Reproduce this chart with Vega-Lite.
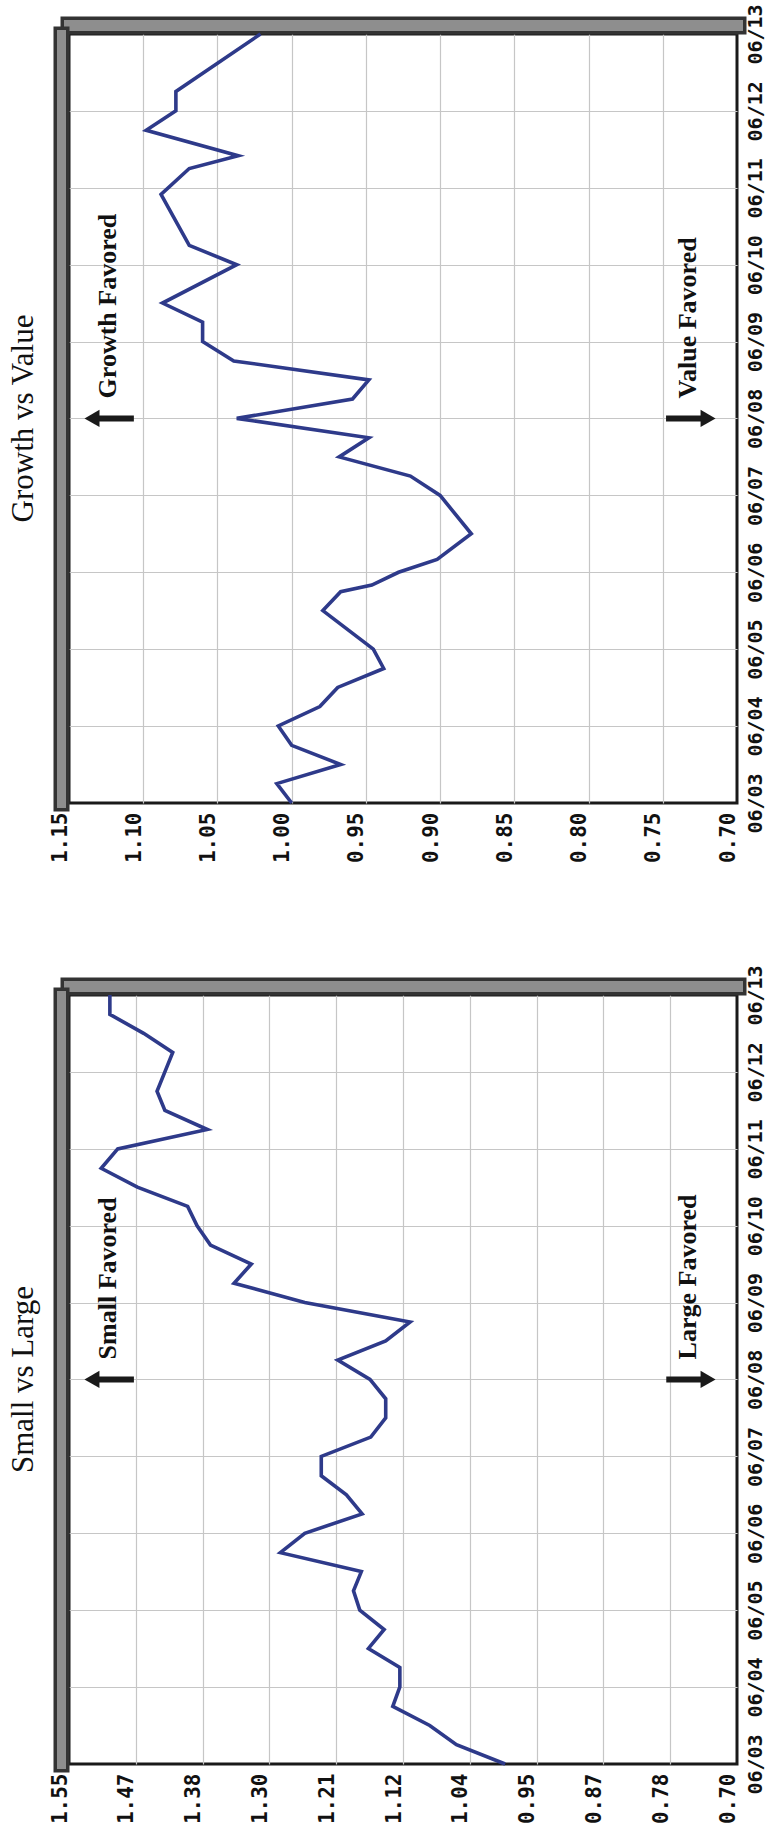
{
  "$schema": "https://vega.github.io/schema/vega-lite/v6.json",
  "background": "white",
  "padding": {"left": 6, "top": 2, "right": 0, "bottom": 4},
  "spacing": 192,
  "bounds": "flush",
  "datasets": {
    "gv": [
      {"date": "2003-06-01", "ratio": 1.000},
      {"date": "2003-09-01", "ratio": 1.010},
      {"date": "2003-12-01", "ratio": 0.967},
      {"date": "2004-03-01", "ratio": 1.000},
      {"date": "2004-06-01", "ratio": 1.009},
      {"date": "2004-09-01", "ratio": 0.981},
      {"date": "2004-12-01", "ratio": 0.969},
      {"date": "2005-03-01", "ratio": 0.938},
      {"date": "2005-06-01", "ratio": 0.945},
      {"date": "2005-12-01", "ratio": 0.979},
      {"date": "2006-03-01", "ratio": 0.967},
      {"date": "2006-04-01", "ratio": 0.946},
      {"date": "2006-06-01", "ratio": 0.928},
      {"date": "2006-08-01", "ratio": 0.902},
      {"date": "2006-12-01", "ratio": 0.879},
      {"date": "2007-06-01", "ratio": 0.900},
      {"date": "2007-09-01", "ratio": 0.920},
      {"date": "2007-12-01", "ratio": 0.968},
      {"date": "2008-03-01", "ratio": 0.948},
      {"date": "2008-06-01", "ratio": 1.037},
      {"date": "2008-09-01", "ratio": 0.959},
      {"date": "2008-12-01", "ratio": 0.948},
      {"date": "2009-03-01", "ratio": 1.039},
      {"date": "2009-06-01", "ratio": 1.060},
      {"date": "2009-09-01", "ratio": 1.060},
      {"date": "2009-12-01", "ratio": 1.087},
      {"date": "2010-06-01", "ratio": 1.037},
      {"date": "2010-09-01", "ratio": 1.069},
      {"date": "2011-05-01", "ratio": 1.088},
      {"date": "2011-09-01", "ratio": 1.069},
      {"date": "2011-11-01", "ratio": 1.036},
      {"date": "2012-03-01", "ratio": 1.098},
      {"date": "2012-06-01", "ratio": 1.078},
      {"date": "2012-09-01", "ratio": 1.078},
      {"date": "2013-06-01", "ratio": 1.021}
    ],
    "sl": [
      {"date": "2003-06-01", "ratio": 0.995},
      {"date": "2003-09-01", "ratio": 1.057},
      {"date": "2003-12-01", "ratio": 1.091},
      {"date": "2004-03-01", "ratio": 1.138},
      {"date": "2004-06-01", "ratio": 1.129},
      {"date": "2004-09-01", "ratio": 1.129},
      {"date": "2004-12-01", "ratio": 1.169},
      {"date": "2005-03-01", "ratio": 1.149},
      {"date": "2005-06-01", "ratio": 1.180},
      {"date": "2005-09-01", "ratio": 1.188},
      {"date": "2005-12-01", "ratio": 1.178},
      {"date": "2006-03-01", "ratio": 1.281},
      {"date": "2006-06-01", "ratio": 1.250},
      {"date": "2006-09-01", "ratio": 1.177},
      {"date": "2006-12-01", "ratio": 1.197},
      {"date": "2007-03-01", "ratio": 1.229},
      {"date": "2007-06-01", "ratio": 1.229},
      {"date": "2007-09-01", "ratio": 1.166},
      {"date": "2007-12-01", "ratio": 1.147},
      {"date": "2008-03-01", "ratio": 1.147},
      {"date": "2008-06-01", "ratio": 1.167},
      {"date": "2008-09-01", "ratio": 1.208},
      {"date": "2008-12-01", "ratio": 1.147},
      {"date": "2009-03-01", "ratio": 1.116},
      {"date": "2009-06-01", "ratio": 1.250},
      {"date": "2009-09-01", "ratio": 1.340},
      {"date": "2009-12-01", "ratio": 1.318},
      {"date": "2010-03-01", "ratio": 1.370},
      {"date": "2010-06-01", "ratio": 1.387},
      {"date": "2010-09-01", "ratio": 1.399},
      {"date": "2010-12-01", "ratio": 1.463},
      {"date": "2011-03-01", "ratio": 1.509},
      {"date": "2011-06-01", "ratio": 1.488},
      {"date": "2011-09-01", "ratio": 1.374},
      {"date": "2011-12-01", "ratio": 1.428},
      {"date": "2012-03-01", "ratio": 1.438},
      {"date": "2012-06-01", "ratio": 1.428},
      {"date": "2012-09-01", "ratio": 1.418},
      {"date": "2012-12-01", "ratio": 1.455},
      {"date": "2013-03-01", "ratio": 1.498},
      {"date": "2013-06-01", "ratio": 1.498}
    ],
    "ann_gv": [
      {"label": "Growth Favored", "side": "left", "date": "2008-06-01", "label_at": 1.1238, "shaft_from": 1.1305, "shaft_to": 1.1063, "head": 1.1345},
      {"label": "Value Favored", "side": "right", "date": "2008-06-01", "label_at": 0.733, "shaft_from": 0.7478, "shaft_to": 0.7236, "head": 0.7195}
    ],
    "ann_sl": [
      {"label": "Small Favored", "side": "left", "date": "2008-06-01", "label_at": 1.500, "shaft_from": 1.5132, "shaft_to": 1.4674, "head": 1.5208},
      {"label": "Large Favored", "side": "right", "date": "2008-06-01", "label_at": 0.762, "shaft_from": 0.790, "shaft_to": 0.7445, "head": 0.7368}
    ]
  },
  "vconcat": [
    {
      "width": 668,
      "height": 769,
      "title": {"text": "Growth vs Value", "orient": "left", "anchor": "middle", "font": "Liberation Serif", "fontSize": 31, "fontWeight": "normal", "color": "#111111", "offset": 9},
      "resolve": {"axis": {"x": "independent", "y": "independent"}},
      "layer": [
        {
          "data": {"name": "ann_gv"},
          "mark": {"type": "rule", "color": "#1a1a1a", "strokeWidth": 6},
          "encoding": {
            "x": {"field": "shaft_from", "type": "quantitative", "scale": {"domain": [0.7, 1.15], "reverse": true, "zero": false, "nice": false},
                  "axis": {"orient": "top", "domain": true, "domainColor": "#333333", "domainWidth": 18, "domainCap": "square", "offset": 9, "labels": false, "ticks": false, "grid": false, "title": null}},
            "x2": {"field": "shaft_to"},
            "y": {"field": "date", "type": "temporal", "scale": {"type": "utc", "domain": [{"year": 2003, "month": 6, "date": 1, "utc": true}, {"year": 2013, "month": 6, "date": 1, "utc": true}], "nice": false},
                  "axis": {"orient": "left", "domain": true, "domainColor": "#333333", "domainWidth": 16, "domainCap": "square", "offset": 8, "labels": false, "ticks": false, "grid": false, "title": null}}
          }
        },
        {
          "data": {"name": "ann_gv"},
          "mark": {"type": "point", "filled": true, "size": 300, "color": "#1a1a1a", "opacity": 1},
          "encoding": {
            "x": {"field": "head", "type": "quantitative", "scale": {"domain": [0.7, 1.15], "reverse": true, "zero": false, "nice": false},
                  "axis": {"orient": "top", "domain": true, "domainColor": "#8e8e8e", "domainWidth": 11, "domainCap": "square", "offset": 9, "labels": false, "ticks": false, "grid": false, "title": null}},
            "y": {"field": "date", "type": "temporal", "scale": {"type": "utc", "domain": [{"year": 2003, "month": 6, "date": 1, "utc": true}, {"year": 2013, "month": 6, "date": 1, "utc": true}], "nice": false},
                  "axis": {"orient": "left", "domain": true, "domainColor": "#8e8e8e", "domainWidth": 9, "domainCap": "square", "offset": 8, "labels": false, "ticks": false, "grid": false, "title": null}},
            "shape": {"field": "side", "type": "nominal", "scale": {"domain": ["left", "right"], "range": ["triangle-left", "triangle-right"]}, "legend": null}
          }
        },
        {
          "data": {"name": "ann_gv"},
          "mark": {"type": "text", "angle": 270, "align": "left", "baseline": "middle", "dx": 20, "font": "Liberation Serif", "fontSize": 26, "fontWeight": "bold", "color": "#111111"},
          "encoding": {
            "x": {"field": "label_at", "type": "quantitative", "scale": {"domain": [0.7, 1.15], "reverse": true, "zero": false, "nice": false},
                  "axis": {"orient": "bottom", "values": [0.75, 0.8, 0.85, 0.9, 0.95, 1.0, 1.05, 1.1], "grid": true, "labels": false, "ticks": false, "domain": false, "title": null, "gridColor": "#c6c6c6", "gridWidth": 1.2}},
            "y": {"field": "date", "type": "temporal", "scale": {"type": "utc", "domain": [{"year": 2003, "month": 6, "date": 1, "utc": true}, {"year": 2013, "month": 6, "date": 1, "utc": true}], "nice": false},
                  "axis": {"orient": "right", "values": [{"year": 2004, "month": 6, "date": 1, "utc": true}, {"year": 2005, "month": 6, "date": 1, "utc": true}, {"year": 2006, "month": 6, "date": 1, "utc": true}, {"year": 2007, "month": 6, "date": 1, "utc": true}, {"year": 2008, "month": 6, "date": 1, "utc": true}, {"year": 2009, "month": 6, "date": 1, "utc": true}, {"year": 2010, "month": 6, "date": 1, "utc": true}, {"year": 2011, "month": 6, "date": 1, "utc": true}, {"year": 2012, "month": 6, "date": 1, "utc": true}], "grid": true, "labels": false, "ticks": false, "domain": false, "title": null, "gridColor": "#c6c6c6", "gridWidth": 1.2}},
            "text": {"field": "label", "type": "nominal"}
          }
        },
        {
          "data": {"name": "gv"},
          "mark": {"type": "line", "color": "#2e3a8a", "strokeWidth": 3.6},
          "encoding": {
            "x": {"field": "ratio", "type": "quantitative", "scale": {"domain": [0.7, 1.15], "reverse": true, "zero": false, "nice": false},
                  "axis": {"orient": "bottom", "values": [0.7, 0.75, 0.8, 0.85, 0.9, 0.95, 1.0, 1.05, 1.1, 1.15], "format": ".2f", "labelAngle": 270, "labelAlign": "right", "labelBaseline": "middle", "labelPadding": 9, "labelOffset": -9, "labelFlush": false, "labelOverlap": false, "labelFontSize": 21, "grid": false, "ticks": false, "domain": false, "title": null}},
            "y": {"field": "date", "type": "temporal", "scale": {"type": "utc", "domain": [{"year": 2003, "month": 6, "date": 1, "utc": true}, {"year": 2013, "month": 6, "date": 1, "utc": true}], "nice": false},
                  "axis": {"orient": "right", "values": [{"year": 2003, "month": 6, "date": 1, "utc": true}, {"year": 2004, "month": 6, "date": 1, "utc": true}, {"year": 2005, "month": 6, "date": 1, "utc": true}, {"year": 2006, "month": 6, "date": 1, "utc": true}, {"year": 2007, "month": 6, "date": 1, "utc": true}, {"year": 2008, "month": 6, "date": 1, "utc": true}, {"year": 2009, "month": 6, "date": 1, "utc": true}, {"year": 2010, "month": 6, "date": 1, "utc": true}, {"year": 2011, "month": 6, "date": 1, "utc": true}, {"year": 2012, "month": 6, "date": 1, "utc": true}, {"year": 2013, "month": 6, "date": 1, "utc": true}], "format": "%m/%y", "labelAngle": 270, "labelAlign": "center", "labelBaseline": "top", "labelPadding": 8, "labelFlush": false, "labelOverlap": false, "labelFontSize": 20, "grid": false, "ticks": false, "domain": false, "title": null}},
            "order": {"field": "date", "type": "temporal"}
          }
        }
      ]
    },
    {
      "width": 668,
      "height": 769,
      "title": {"text": "Small vs Large", "orient": "left", "anchor": "middle", "font": "Liberation Serif", "fontSize": 31, "fontWeight": "normal", "color": "#111111", "offset": 9},
      "resolve": {"axis": {"x": "independent", "y": "independent"}},
      "layer": [
        {
          "data": {"name": "ann_sl"},
          "mark": {"type": "rule", "color": "#1a1a1a", "strokeWidth": 6},
          "encoding": {
            "x": {"field": "shaft_from", "type": "quantitative", "scale": {"domain": [0.7, 1.55], "reverse": true, "zero": false, "nice": false},
                  "axis": {"orient": "top", "domain": true, "domainColor": "#333333", "domainWidth": 18, "domainCap": "square", "offset": 9, "labels": false, "ticks": false, "grid": false, "title": null}},
            "x2": {"field": "shaft_to"},
            "y": {"field": "date", "type": "temporal", "scale": {"type": "utc", "domain": [{"year": 2003, "month": 6, "date": 1, "utc": true}, {"year": 2013, "month": 6, "date": 1, "utc": true}], "nice": false},
                  "axis": {"orient": "left", "domain": true, "domainColor": "#333333", "domainWidth": 16, "domainCap": "square", "offset": 8, "labels": false, "ticks": false, "grid": false, "title": null}}
          }
        },
        {
          "data": {"name": "ann_sl"},
          "mark": {"type": "point", "filled": true, "size": 300, "color": "#1a1a1a", "opacity": 1},
          "encoding": {
            "x": {"field": "head", "type": "quantitative", "scale": {"domain": [0.7, 1.55], "reverse": true, "zero": false, "nice": false},
                  "axis": {"orient": "top", "domain": true, "domainColor": "#8e8e8e", "domainWidth": 11, "domainCap": "square", "offset": 9, "labels": false, "ticks": false, "grid": false, "title": null}},
            "y": {"field": "date", "type": "temporal", "scale": {"type": "utc", "domain": [{"year": 2003, "month": 6, "date": 1, "utc": true}, {"year": 2013, "month": 6, "date": 1, "utc": true}], "nice": false},
                  "axis": {"orient": "left", "domain": true, "domainColor": "#8e8e8e", "domainWidth": 9, "domainCap": "square", "offset": 8, "labels": false, "ticks": false, "grid": false, "title": null}},
            "shape": {"field": "side", "type": "nominal", "scale": {"domain": ["left", "right"], "range": ["triangle-left", "triangle-right"]}, "legend": null}
          }
        },
        {
          "data": {"name": "ann_sl"},
          "mark": {"type": "text", "angle": 270, "align": "left", "baseline": "middle", "dx": 20, "font": "Liberation Serif", "fontSize": 26, "fontWeight": "bold", "color": "#111111"},
          "encoding": {
            "x": {"field": "label_at", "type": "quantitative", "scale": {"domain": [0.7, 1.55], "reverse": true, "zero": false, "nice": false},
                  "axis": {"orient": "bottom", "values": [0.785, 0.87, 0.955, 1.04, 1.125, 1.21, 1.295, 1.38, 1.465], "grid": true, "labels": false, "ticks": false, "domain": false, "title": null, "gridColor": "#c6c6c6", "gridWidth": 1.2}},
            "y": {"field": "date", "type": "temporal", "scale": {"type": "utc", "domain": [{"year": 2003, "month": 6, "date": 1, "utc": true}, {"year": 2013, "month": 6, "date": 1, "utc": true}], "nice": false},
                  "axis": {"orient": "right", "values": [{"year": 2004, "month": 6, "date": 1, "utc": true}, {"year": 2005, "month": 6, "date": 1, "utc": true}, {"year": 2006, "month": 6, "date": 1, "utc": true}, {"year": 2007, "month": 6, "date": 1, "utc": true}, {"year": 2008, "month": 6, "date": 1, "utc": true}, {"year": 2009, "month": 6, "date": 1, "utc": true}, {"year": 2010, "month": 6, "date": 1, "utc": true}, {"year": 2011, "month": 6, "date": 1, "utc": true}, {"year": 2012, "month": 6, "date": 1, "utc": true}], "grid": true, "labels": false, "ticks": false, "domain": false, "title": null, "gridColor": "#c6c6c6", "gridWidth": 1.2}},
            "text": {"field": "label", "type": "nominal"}
          }
        },
        {
          "data": {"name": "sl"},
          "mark": {"type": "line", "color": "#2e3a8a", "strokeWidth": 3.6},
          "encoding": {
            "x": {"field": "ratio", "type": "quantitative", "scale": {"domain": [0.7, 1.55], "reverse": true, "zero": false, "nice": false},
                  "axis": {"orient": "bottom", "values": [0.7, 0.785, 0.87, 0.955, 1.04, 1.125, 1.21, 1.295, 1.38, 1.465, 1.55], "labelExpr": "['0.70','0.78','0.87','0.95','1.04','1.12','1.21','1.30','1.38','1.47','1.55'][round((datum.value - 0.7) / 0.085)]", "labelAngle": 270, "labelAlign": "right", "labelBaseline": "middle", "labelPadding": 9, "labelOffset": -9, "labelFlush": false, "labelOverlap": false, "labelFontSize": 21, "grid": false, "ticks": false, "domain": false, "title": null}},
            "y": {"field": "date", "type": "temporal", "scale": {"type": "utc", "domain": [{"year": 2003, "month": 6, "date": 1, "utc": true}, {"year": 2013, "month": 6, "date": 1, "utc": true}], "nice": false},
                  "axis": {"orient": "right", "values": [{"year": 2003, "month": 6, "date": 1, "utc": true}, {"year": 2004, "month": 6, "date": 1, "utc": true}, {"year": 2005, "month": 6, "date": 1, "utc": true}, {"year": 2006, "month": 6, "date": 1, "utc": true}, {"year": 2007, "month": 6, "date": 1, "utc": true}, {"year": 2008, "month": 6, "date": 1, "utc": true}, {"year": 2009, "month": 6, "date": 1, "utc": true}, {"year": 2010, "month": 6, "date": 1, "utc": true}, {"year": 2011, "month": 6, "date": 1, "utc": true}, {"year": 2012, "month": 6, "date": 1, "utc": true}, {"year": 2013, "month": 6, "date": 1, "utc": true}], "format": "%m/%y", "labelAngle": 270, "labelAlign": "center", "labelBaseline": "top", "labelPadding": 8, "labelFlush": false, "labelOverlap": false, "labelFontSize": 20, "grid": false, "ticks": false, "domain": false, "title": null}},
            "order": {"field": "date", "type": "temporal"}
          }
        }
      ]
    }
  ],
  "config": {
    "view": {"stroke": "#1a1a1a", "strokeWidth": 3},
    "axis": {"labelFont": "DejaVu Sans Mono", "labelFontSize": 19, "labelFontWeight": "bold", "labelColor": "#111111"}
  }
}
